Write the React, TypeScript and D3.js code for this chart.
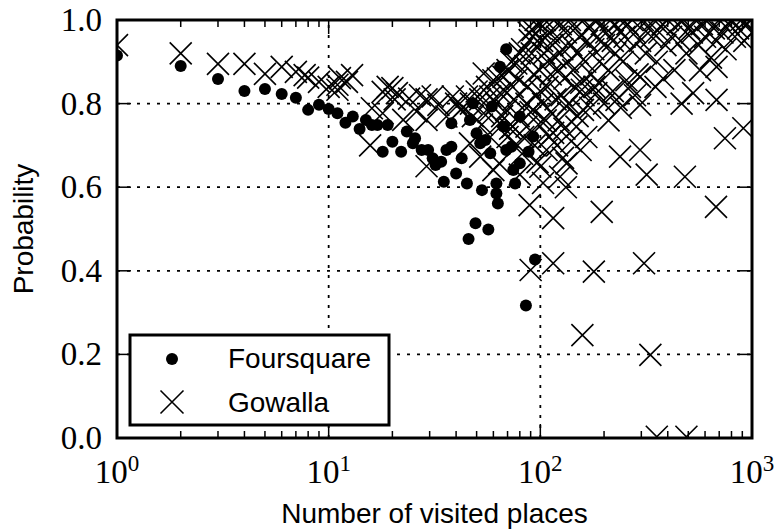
import React from "react";
import * as d3 from "d3";

// Probability vs. number of visited places, two check-in datasets
const foursquare: [number, number][] = [
  [1, 0.915], [2, 0.89], [3, 0.859], [4, 0.83], [5, 0.835], [6, 0.823], [7, 0.814],
  [8, 0.785], [9, 0.797], [10, 0.787], [11, 0.777], [12, 0.754], [13, 0.769], [14, 0.739],
  [15, 0.761], [16, 0.749], [17, 0.749], [18, 0.685], [19, 0.749], [20, 0.709], [22, 0.685],
  [23.4, 0.733], [25, 0.705], [25.6, 0.717], [27.5, 0.689], [29.5, 0.689], [31, 0.669],
  [32, 0.653], [34, 0.661], [35, 0.613], [36, 0.689], [38, 0.697], [38, 0.753], [40, 0.633],
  [42.5, 0.669], [45, 0.609], [46.5, 0.761], [48, 0.801], [50, 0.729], [52, 0.705],
  [53, 0.593], [55, 0.713], [58, 0.681], [59, 0.793], [62, 0.609], [62, 0.585], [63, 0.561],
  [64.5, 0.888], [69, 0.93], [67, 0.745], [69, 0.689], [73, 0.697], [74.5, 0.641], [76, 0.609],
  [80, 0.769], [80, 0.657], [88, 0.685], [92.6, 0.721], [49.4, 0.514], [56.8, 0.499],
  [45.8, 0.476], [94.4, 0.427], [85.5, 0.317],
];

const gowalla: [number, number][] = [
  // small users
  [1, 0.94], [2, 0.92], [3, 0.895], [4, 0.895], [5, 0.871], [6, 0.888], [7, 0.876],
  [7.7, 0.868], [8, 0.862], [9, 0.852], [10, 0.84], [11, 0.833], [11, 0.845], [11.3, 0.861],
  [12.2, 0.852], [12.9, 0.868],
  [15.7, 0.7], [16, 0.789], [18, 0.777], [18, 0.828], [19, 0.84], [20, 0.837], [20.5, 0.81],
  [21, 0.825], [22.5, 0.761], [24, 0.812], [26, 0.781], [27, 0.82], [29, 0.81], [29, 0.761],
  [29, 0.65], [31, 0.817], [33, 0.797], [36, 0.769], [38.6, 0.817], [42, 0.785], [45, 0.817],
  [50, 0.829], [40, 0.8], [43, 0.79], [46.5, 0.705], [47, 0.8], [48, 0.77], [52, 0.673],
  // 50 - 100
  [52, 0.81], [53, 0.75], [54, 0.872], [54, 0.777], [56, 0.84], [57, 0.78], [58, 0.817],
  [58, 0.72], [60, 0.856], [60, 0.641], [62, 0.8], [63, 0.86], [64, 0.753], [64, 0.657],
  [64.5, 0.825], [66, 0.77], [67, 0.864], [68, 0.83], [69, 0.785], [70, 0.88], [70, 0.72],
  [72, 0.74], [73, 0.9], [74, 0.84], [74, 0.745], [75, 0.81], [77, 0.896], [78, 0.86],
  [78, 0.7], [79, 0.77], [80, 0.92], [80, 0.63], [82, 0.93], [82, 0.68], [83, 0.72],
  [85, 0.89], [86, 0.8], [86, 0.745], [87, 0.84], [88, 0.97], [89, 0.952], [89, 0.557],
  [90, 0.78], [90, 0.402], [91, 0.92], [92, 0.976], [92.6, 0.785], [93, 0.87], [94, 0.7],
  [95, 1.0], [96, 0.82], [97, 0.95], [97, 0.66], [98, 0.75], [99, 0.88],
  // 100 - 1000, scattered lower values
  [100, 0.649], [103, 0.61], [107, 0.689], [110, 0.721], [115, 0.526], [115, 0.418],
  [124, 0.625], [132, 0.6], [133, 0.793], [133, 0.657], [148, 0.745], [155, 0.689],
  [157, 0.833], [158, 0.246], [159, 0.785], [179, 0.398], [184, 0.825], [190, 0.848],
  [195, 0.541], [229, 0.809], [238, 0.673], [255, 0.856], [296, 0.797], [296, 0.689],
  [296, 0.864], [309, 0.418], [318, 0.63], [331, 0.199], [355, 0.003], [465, 0.8],
  [482, 0.625], [490, 0.003], [527, 0.825], [568, 0.88], [676, 0.553], [680, 0.809],
  [680, 0.888], [745, 0.717], [910, 0.741],
  [100, 0.83], [103, 0.8], [106, 0.76], [108, 0.84], [112, 0.78], [115, 0.73], [118, 0.81],
  [120, 0.7], [122, 0.76], [126, 0.82], [128, 0.67], [130, 0.74], [136, 0.8], [140, 0.71],
  [145, 0.84], [150, 0.77], [160, 0.82], [165, 0.72], [172, 0.79], [180, 0.84], [200, 0.8],
  [210, 0.76], [220, 0.83], [240, 0.79], [265, 0.84], [280, 0.82], [350, 0.84], [380, 0.86],
  // 100 - 1000, upper band
  [100, 0.98], [102, 0.95], [104, 0.92], [105, 1.0], [108, 0.9], [110, 0.97], [112, 0.87],
  [114, 0.94], [116, 1.0], [118, 0.91], [120, 0.96], [122, 0.88], [125, 0.99], [127, 0.93],
  [130, 0.86], [132, 0.97], [135, 0.9], [138, 1.0], [140, 0.94], [143, 0.88], [146, 0.98],
  [150, 0.92], [153, 0.96], [156, 0.85], [160, 1.0], [163, 0.9], [166, 0.95], [170, 0.98],
  [174, 0.87], [178, 0.93], [182, 1.0], [186, 0.96], [190, 0.9], [195, 0.99], [200, 0.94],
  [205, 0.97], [210, 0.88], [215, 1.0], [220, 0.95], [226, 0.92], [232, 0.98], [238, 1.0],
  [245, 0.9], [250, 0.96], [258, 0.99], [265, 0.93], [272, 1.0], [280, 0.97], [288, 0.87],
  [296, 0.95], [305, 1.0], [315, 0.92], [325, 0.98], [335, 0.96], [345, 1.0], [355, 0.9],
  [365, 0.97], [378, 0.99], [390, 0.94], [400, 1.0], [415, 0.96], [430, 0.88], [445, 0.99],
  [460, 0.95], [475, 1.0], [490, 0.92], [505, 0.98], [520, 0.97], [540, 1.0], [560, 0.94],
  [580, 0.99], [600, 0.96], [620, 1.0], [640, 0.91], [660, 0.98], [680, 0.95], [700, 1.0],
  [725, 0.97], [750, 0.93], [775, 0.99], [800, 1.0], [830, 0.96], [860, 0.98], [890, 1.0],
  [920, 0.95], [950, 0.99], [980, 1.0], [1000, 0.97],
];

const xMajorTicks = [1, 10, 100, 1000];
const xExponents = ["0", "1", "2", "3"];
const yTicks = [0, 0.2, 0.4, 0.6, 0.8, 1.0];
const yTickLabels = ["0.0", "0.2", "0.4", "0.6", "0.8", "1.0"];
const xGrid = [10, 100];
const yGrid = [0.2, 0.4, 0.6, 0.8];
const seriesNames = ["Foursquare", "Gowalla"];

const W = 778;
const H = 529;
const left = 117;
const right = 752;
const top = 20;
const bottom = 438;

const serif = "'Liberation Serif', 'DejaVu Serif', serif";
const sans = "'Liberation Sans', Arial, sans-serif";

const cross = (s: number) => `M${-s},${-s}L${s},${s}M${-s},${s}L${s},${-s}`;

export default function App() {
  const x = d3.scaleLog().domain([1, 1000]).range([left, right]);
  const y = d3.scaleLinear().domain([0, 1]).range([bottom, top]);

  const minorTicks: number[] = [];
  for (const base of [1, 10, 100]) {
    for (let m = 2; m <= 9; m++) minorTicks.push(base * m);
  }

  const majorLen = 14;
  const minorLen = 7;

  return (
    <svg
      width={W}
      height={H}
      style={{ position: "absolute", left: 0, top: 0, background: "#fff" }}
    >
      <defs>
        <clipPath id="plot-area">
          <rect x={left} y={top} width={right - left} height={bottom - top} />
        </clipPath>
      </defs>
      <rect x={0} y={0} width={W} height={H} fill="#fff" />

      {/* grid */}
      <g stroke="#000" strokeWidth={1.8} strokeDasharray="3,7" fill="none">
        {xGrid.map((v) => (
          <line key={`gx${v}`} x1={x(v)} x2={x(v)} y1={bottom} y2={top} />
        ))}
        {yGrid.map((v) => (
          <line key={`gy${v}`} x1={left} x2={right} y1={y(v)} y2={y(v)} />
        ))}
      </g>

      {/* data */}
      <g clipPath="url(#plot-area)">
        <g fill="#000">
          {foursquare.map(([v, p], i) => (
            <circle key={`f${i}`} cx={x(v)} cy={y(p)} r={6} />
          ))}
        </g>
        <g stroke="#000" strokeWidth={1.6} fill="none">
          {gowalla.map(([v, p], i) => (
            <path key={`g${i}`} d={cross(11)} transform={`translate(${x(v)},${y(p)})`} />
          ))}
        </g>
      </g>

      {/* ticks */}
      <g stroke="#000" strokeWidth={1.5}>
        {xMajorTicks.map((v) => (
          <g key={`xt${v}`}>
            <line x1={x(v)} x2={x(v)} y1={bottom} y2={bottom - majorLen} />
            <line x1={x(v)} x2={x(v)} y1={top} y2={top + majorLen} />
          </g>
        ))}
        {minorTicks.map((v) => (
          <g key={`xm${v}`}>
            <line x1={x(v)} x2={x(v)} y1={bottom} y2={bottom - minorLen} />
            <line x1={x(v)} x2={x(v)} y1={top} y2={top + minorLen} />
          </g>
        ))}
        {yTicks.map((v) => (
          <g key={`yt${v}`}>
            <line x1={left} x2={left + majorLen} y1={y(v)} y2={y(v)} />
            <line x1={right} x2={right - majorLen} y1={y(v)} y2={y(v)} />
          </g>
        ))}
      </g>

      {/* frame */}
      <rect
        x={left}
        y={top}
        width={right - left}
        height={bottom - top}
        fill="none"
        stroke="#000"
        strokeWidth={3}
      />

      {/* tick labels */}
      <g fontFamily={serif} fill="#000">
        {yTicks.map((v, i) => (
          <text key={`yl${v}`} x={102} y={y(v) + 11} fontSize={33} textAnchor="end">
            {yTickLabels[i]}
          </text>
        ))}
        {xMajorTicks.map((v, i) => (
          <text key={`xl${v}`} x={x(v)} y={483} fontSize={33} textAnchor="middle">
            <tspan>10</tspan>
            <tspan fontSize={23} dy={-12}>
              {xExponents[i]}
            </tspan>
          </text>
        ))}
      </g>

      {/* axis titles */}
      <text
        x={(left + right) / 2}
        y={523}
        fontFamily={sans}
        fontSize={28}
        textAnchor="middle"
        fill="#000"
      >
        Number of visited places
      </text>
      <text
        transform={`translate(33,${(top + bottom) / 2}) rotate(-90)`}
        fontFamily={sans}
        fontSize={28}
        textAnchor="middle"
        fill="#000"
      >
        Probability
      </text>

      {/* legend */}
      <g>
        <rect x={130} y={335} width={259} height={90} fill="#fff" stroke="#000" strokeWidth={3} />
        <circle cx={172} cy={359} r={6} fill="#000" />
        <path d={cross(11.5)} transform="translate(172,402)" stroke="#000" strokeWidth={1.6} fill="none" />
        <text x={228} y={368} fontFamily={sans} fontSize={28} fill="#000">
          {seriesNames[0]}
        </text>
        <text x={228} y={412} fontFamily={sans} fontSize={28} fill="#000">
          {seriesNames[1]}
        </text>
      </g>
    </svg>
  );
}
